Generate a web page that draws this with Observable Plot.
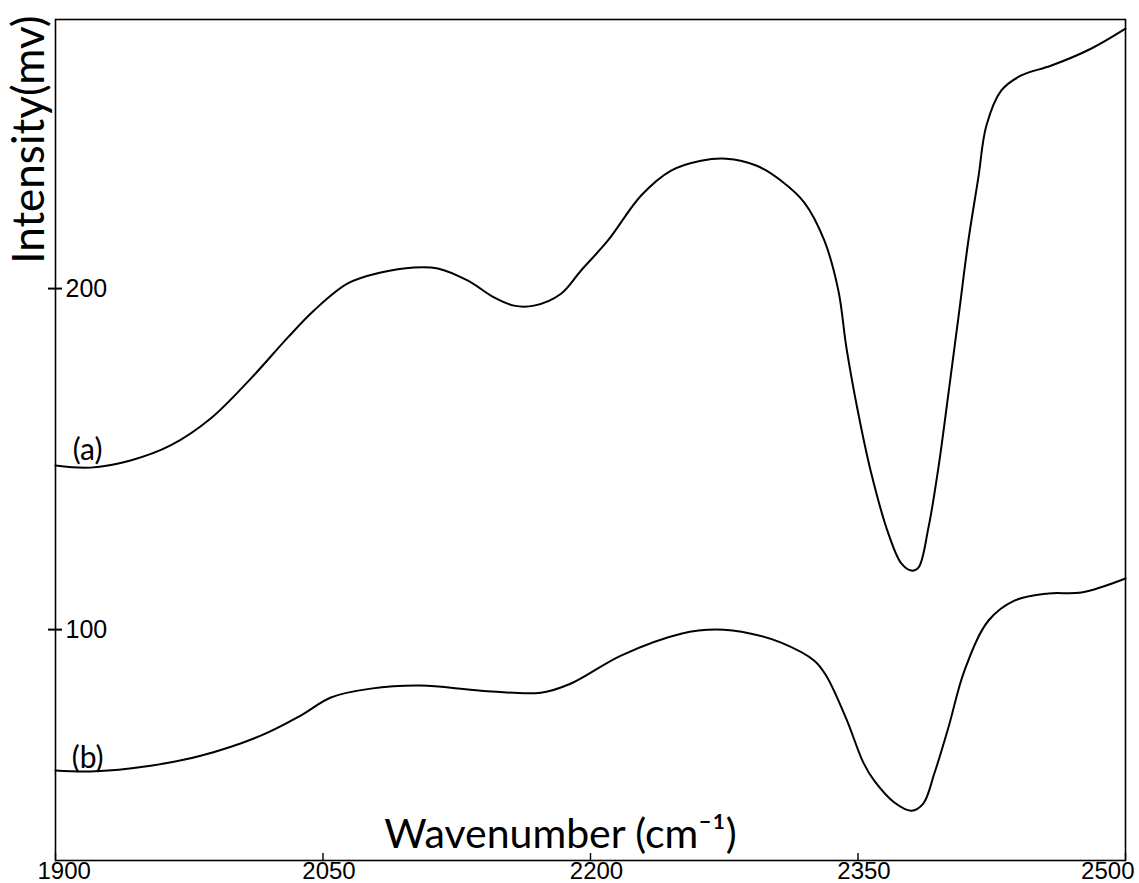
<!DOCTYPE html>
<html>
<head>
<meta charset="utf-8">
<script src="https://cdn.jsdelivr.net/npm/d3@7"></script>
<script src="https://cdn.jsdelivr.net/npm/@observablehq/plot@0.6"></script>
<style>
  html, body { margin: 0; padding: 0; background: #fff; }
  #chart svg { display: block; }
</style>
</head>
<body>
<div id="chart"></div>
<script>
// Wavenumber (cm^-1) and intensity (mV)
const waveA = [1900, 1919.6, 1942.1, 1964.5, 1987, 2009.5, 2030.2, 2044.8, 2063.9, 2082.4, 2100.9, 2114.4, 2131.3, 2145.9, 2157.1, 2168.3, 2183.5, 2194.7, 2209.8, 2228.4, 2245.2, 2262, 2276.1, 2292.9, 2306.9, 2319.9, 2331.1, 2339, 2343.5, 2350.2, 2357.5, 2367, 2374.3, 2379.9, 2383.9, 2389.5, 2395.1, 2400.7, 2406.3, 2411.9, 2417.5, 2422, 2430.4, 2441.6, 2458.5, 2480.9, 2500];
const intensityA = [148.1, 147.5, 149.6, 154, 161.9, 173.6, 185.6, 193.5, 201.5, 204.7, 206.2, 205.9, 202.3, 197.4, 195, 195, 198.5, 205.3, 214.1, 227.3, 234.6, 237.5, 238.1, 236.1, 231.6, 225.2, 214.1, 199.4, 182.7, 163.3, 145.7, 128.2, 119.4, 117.3, 118.2, 129.9, 147.5, 169.2, 191.5, 214.1, 232.6, 247.8, 258.1, 262.5, 265.4, 270.4, 276.2];

const waveB = [1900, 1919.6, 1953.3, 1981.4, 2015.1, 2037.5, 2054.4, 2076.8, 2104.9, 2138.6, 2172.2, 2189.1, 2217.1, 2250.8, 2270.5, 2290.1, 2306.9, 2325.5, 2332.2, 2343.4, 2353, 2359.1, 2370.4, 2379.9, 2386.6, 2392.8, 2400.7, 2409.7, 2423.1, 2437.7, 2456.8, 2475.3, 2500];
const intensityB = [58.7, 58.4, 60.1, 63.0, 68.9, 74.8, 80.1, 82.7, 83.6, 82.1, 81.5, 84.2, 92.4, 98.8, 100, 98.8, 96.2, 90.9, 86.5, 73.9, 61.0, 55.7, 49.3, 46.9, 49.0, 57.8, 71.3, 88.0, 102.6, 108.5, 110.6, 110.9, 115.0];

const xTicks = [1900, 2050, 2200, 2350, 2500];
const yTicks = [100, 200];
const seriesLabels = [
  {name: "(a)", wave: 1918, intensity: 149.6},
  {name: "(b)", wave: 1918, intensity: 59.5}
];
const xTitle = "Wavenumber (cm⁻¹)";
const yTitle = "Intensity(mv)";

const dataA = waveA.map((w, i) => ({wave: w, intensity: intensityA[i]}));
const dataB = waveB.map((w, i) => ({wave: w, intensity: intensityB[i]}));

const numFont = "'Liberation Sans', Arial, sans-serif";
const titleFont = "Lato, 'Open Sans', sans-serif";

const chart = Plot.plot({
  width: 1139,
  height: 883,
  marginLeft: 55,
  marginRight: 14,
  marginTop: 19,
  marginBottom: 23,
  style: {background: "#fff", color: "#000"},
  x: {domain: [1900, 2500], axis: null},
  y: {domain: [32.3, 278.9], axis: null},
  marks: [
    Plot.frame({stroke: "#000", strokeWidth: 1.6}),
    // inward x ticks
    Plot.axisX({anchor: "bottom", ticks: xTicks, tickSize: 7, dy: -7, tickFormat: () => "", stroke: "#000", strokeWidth: 1.4, label: null}),
    // crossing y ticks
    Plot.axisY({anchor: "left", ticks: yTicks, tickSize: 14, dx: 7, tickFormat: () => "", stroke: "#000", strokeWidth: 2, label: null}),
    // x tick labels
    Plot.text(xTicks.filter(d => d > 1900 && d < 2500), {x: d => d, text: d => String(d), frameAnchor: "bottom", lineAnchor: "top", dy: 1, dx: 6, fontSize: 24, fontFamily: numFont, fill: "#000"}),
    Plot.text([1900], {x: d => d, text: d => String(d), frameAnchor: "bottom", lineAnchor: "top", dy: 1, dx: -18, textAnchor: "start", fontSize: 24, fontFamily: numFont, fill: "#000"}),
    Plot.text([2500], {x: d => d, text: d => String(d), frameAnchor: "bottom", lineAnchor: "top", dy: 1, dx: 9, textAnchor: "end", fontSize: 24, fontFamily: numFont, fill: "#000"}),
    // y tick labels
    Plot.text(yTicks, {y: d => d, text: d => String(d), frameAnchor: "left", textAnchor: "start", dx: 10, lineAnchor: "middle", fontSize: 25, fontFamily: numFont, fill: "#000"}),
    // curves
    Plot.line(dataA, {x: "wave", y: "intensity", curve: "catmull-rom", stroke: "#000", strokeWidth: 2}),
    Plot.line(dataB, {x: "wave", y: "intensity", curve: "catmull-rom", stroke: "#000", strokeWidth: 2}),
    // series labels
    Plot.text(seriesLabels, {x: "wave", y: "intensity", text: "name", lineAnchor: "bottom", fontSize: 30, fontFamily: titleFont, fill: "#000"}),
    // axis titles
    Plot.text([yTitle], {text: d => d, frameAnchor: "top-left", rotate: -90, textAnchor: "end", lineAnchor: "middle", dx: -26, dy: -4, fontSize: 44, fontFamily: titleFont, fill: "#000"}),
    Plot.text([xTitle], {text: d => d, frameAnchor: "bottom", lineAnchor: "middle", dx: -30, dy: -26, fontSize: 41, fontFamily: titleFont, fill: "#000"})
  ]
});

document.getElementById("chart").appendChild(chart);
</script>
</body>
</html>
